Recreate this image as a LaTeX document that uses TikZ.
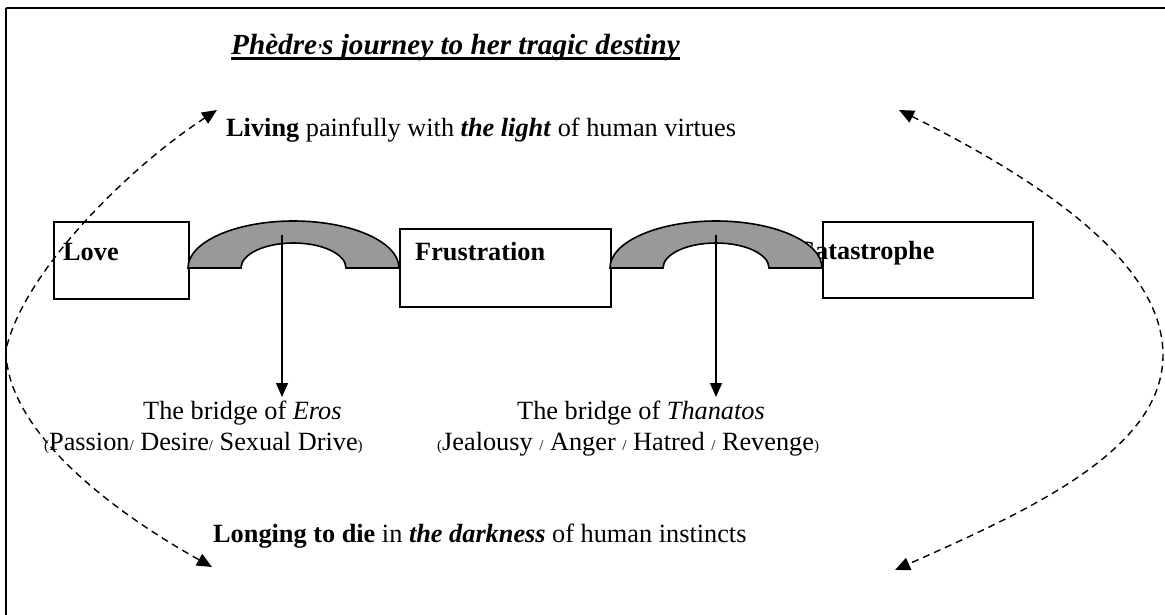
\documentclass[tikz,border=0pt]{standalone}
\usepackage{fontspec}
\setmainfont{Liberation Serif}
\usetikzlibrary{arrows.meta}
\definecolor{bridgegray}{RGB}{153,153,153}
\newcommand\smallsym[1]{{\fontsize{15}{15}\selectfont #1}}
\begin{document}
\begin{tikzpicture}[x=1pt,y=-1pt,
  txt/.style={inner sep=0pt, anchor=base west, font=\fontsize{26.3}{30}\selectfont},
  boldtxt/.style={txt, font=\fontsize{26.3}{30}\selectfont\bfseries},
  box/.style={draw, line width=1.6pt, inner sep=0pt, anchor=north west},
  bridge/.style={draw, line width=1.6pt, fill=bridgegray},
  down/.style={line width=1.4pt, -{Triangle[length=14pt,width=12pt]}},
  loop/.style={line width=1.4pt, dash pattern=on 7pt off 5pt, {Triangle[length=15pt,width=13pt]}-{Triangle[length=15pt,width=13pt]}}]
\useasboundingbox (0,0) rectangle (1165,615);
% frame
\draw[line width=2.2pt] (6,8) -- (1185,8);
\draw[line width=2.2pt] (6,8) -- (6,640);
% title
\node[txt, font=\fontsize{29.2}{32}\selectfont\bfseries\itshape] (title) at (231,55)
  {Phèdre\smallsym{’}s journey to her tragic destiny};
\draw[line width=2.2pt] ([yshift=-3.5pt]title.base west) -- ([yshift=-3.5pt]title.base east);
% boxes
\node[box, minimum width=135pt, minimum height=77pt] (love) at (53,221) {};
\node[box, minimum width=211pt, minimum height=78pt] (frus) at (399,228) {};
\node[box, minimum width=210pt, minimum height=76pt] (cata) at (822,221) {};
\node[boldtxt] (lovet) at (63,260) {Love};
\node[boldtxt] (frust) at (415,260) {Frustration};
\node[boldtxt] (catat) at (796,259) {Catastrophe};
% bridges
\draw[bridge] (188,268) arc[start angle=180, end angle=0, x radius=105.5pt, y radius=47pt]
  -- (346,268) arc[start angle=0, end angle=180, x radius=52.5pt, y radius=25pt] -- cycle;
\draw[bridge] (610,268) arc[start angle=180, end angle=0, x radius=106pt, y radius=47pt]
  -- (769,268) arc[start angle=0, end angle=180, x radius=53pt, y radius=25pt] -- cycle;
% texts
\node[txt] (living) at (226,137) {\textbf{Living} painfully with \textbf{\textit{the light}} of human virtues};
\node[txt] (eros1) at (143,419) {The bridge of \textit{Eros}};
\node[txt] (eros2) at (44,450) {\smallsym{(}Passion\smallsym{/} Desire\smallsym{/} Sexual Drive\smallsym{)}};
\node[txt] (than1) at (517,419) {The bridge of \textit{Thanatos}};
\node[txt] (than2) at (437,450) {\smallsym{(}Jealousy \smallsym{/} Anger \smallsym{/} Hatred \smallsym{/} Revenge\smallsym{)}};
\node[txt] (longing) at (213,542) {\textbf{Longing to die} in \textbf{\textit{the darkness}} of human instincts};
% vertical arrows
\coordinate (erostop) at (282,235);
\coordinate (erosbot) at (282,397);
\coordinate (thantop) at (716,235);
\coordinate (thanbot) at (716,397);
\draw[down] (erostop) -- (erosbot);
\draw[down] (thantop) -- (thanbot);
% dashed loops
\coordinate (ltop) at (217,110);
\coordinate (lbot) at (212,567);
\coordinate (rtop) at (899,110);
\coordinate (rbot) at (895,570);
\draw[loop] (ltop) .. controls (125,170) and (22,275) .. (6,350) .. controls (6,430) and (110,510) .. (lbot);
\draw[loop] (rtop) .. controls (1060,190) and (1163,270) .. (1163,355) .. controls (1163,450) and (1030,510) .. (rbot);
\end{tikzpicture}
\end{document}
